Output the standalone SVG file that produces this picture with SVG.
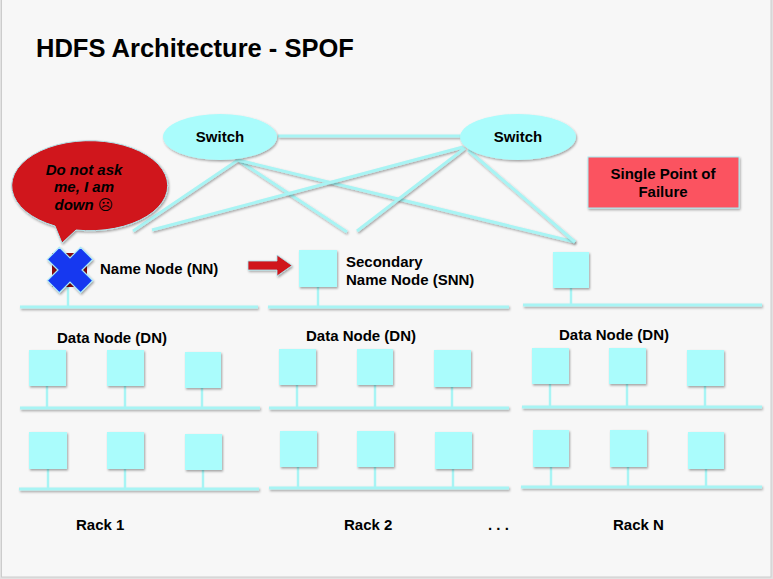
<svg xmlns="http://www.w3.org/2000/svg" width="773" height="579" viewBox="0 0 773 579">
<defs>
<filter id="sh" filterUnits="userSpaceOnUse" x="0" y="0" width="773" height="579">
<feDropShadow dx="1" dy="1.5" stdDeviation="0.8" flood-color="#000" flood-opacity="0.35"/>
</filter>
<style>
text{font-family:"Liberation Sans",Arial,sans-serif;font-weight:bold;fill:#000}
.t15{font-size:15px}
.mid{text-anchor:middle}
.node{fill:#aafcfc;filter:url(#sh)}
.ln{stroke:#a8f4f4;stroke-width:3;fill:none;filter:url(#sh)}
.stem{stroke:#a8f4f4;stroke-width:2.5;fill:none}
.sw{fill:#aafcfc;filter:url(#sh)}
</style>
</defs>
<rect x="0" y="0" width="773" height="579" fill="#e2e2e2"/>
<rect x="1.5" y="-2" width="769.5" height="579" fill="#f7f7f7" stroke="#cccccc" stroke-width="1"/>

<text x="36" y="57" style="font-size:25.5px">HDFS Architecture - SPOF</text>

<g id="connectors">
<line class="ln" x1="278" y1="136" x2="460" y2="136"/>
<line class="ln" x1="238" y1="160" x2="133" y2="231"/>
<line class="ln" x1="238" y1="160" x2="347" y2="232"/>
<line class="ln" x1="238" y1="160" x2="575" y2="242"/>
<line class="ln" x1="463" y1="147" x2="152" y2="230"/>
<line class="ln" x1="465" y1="148" x2="357" y2="231"/>
<line class="ln" x1="468" y1="150" x2="575" y2="242"/>
<g id="arrow">
<polygon points="248,261 277,261 277,255 292,265.5 277,276 277,270 248,270" fill="#d0121b" stroke="#a8e8f0" stroke-width="0.8" filter="url(#sh)"/>
</g>
</g>

<g id="switch-left">
<ellipse class="sw" cx="220" cy="137" rx="57" ry="23"/>
<text class="t15 mid" x="220" y="142">Switch</text>
</g>
<g id="switch-right">
<ellipse class="sw" cx="518" cy="137" rx="58" ry="23"/>
<text class="t15 mid" x="518" y="142">Switch</text>
</g>

<g id="bubble">
<path d="M 55 226 A 78 45 0 1 1 76 230 L 62 243 Z" fill="#d0121b" stroke="#b0e4ea" stroke-width="1" filter="url(#sh)"/>
<text class="t15 mid" x="84" y="175" font-style="italic">Do not ask</text>
<text class="t15 mid" x="84" y="192" font-style="italic">me, I am</text>
<text class="t15 mid" x="84" y="210" font-style="italic">down <tspan font-family="'DejaVu Sans',sans-serif" font-style="normal">☹</tspan></text>
</g>

<g id="spof">
<rect x="588" y="157" width="151" height="51" fill="#fb5360" stroke="#a8ecf0" stroke-width="1" filter="url(#sh)"/>
<text class="t15 mid" x="663" y="179">Single Point of</text>
<text class="t15 mid" x="663" y="197">Failure</text>
</g>

<g id="name-node">
<line class="ln" x1="20" y1="307" x2="258" y2="307"/>
<line class="stem" x1="68" y1="287" x2="68" y2="307"/>
<rect x="52" y="253" width="35" height="34" fill="#8b0a10"/>
<g filter="url(#sh)">
<polygon transform="translate(70,270) rotate(45)" points="-8.5,-23.5 8.5,-23.5 8.5,-8.5 23.5,-8.5 23.5,8.5 8.5,8.5 8.5,23.5 -8.5,23.5 -8.5,8.5 -23.5,8.5 -23.5,-8.5 -8.5,-8.5" fill="#1238f0" stroke="#a8e8f8" stroke-width="1.2"/>
</g>
<text class="t15" x="100" y="274">Name Node (NN)</text>
</g>

<g id="secondary-name-node">
<line class="ln" x1="268" y1="307" x2="509" y2="307"/>
<line class="stem" x1="318" y1="287" x2="318" y2="307"/>
<rect class="node" x="299" y="250" width="38" height="37"/>
<text class="t15" x="346" y="267">Secondary</text>
<text class="t15" x="346" y="285">Name Node (SNN)</text>
</g>

<g id="rack-n-node">
<line class="ln" x1="523" y1="305" x2="762" y2="305"/>
<line class="stem" x1="571" y1="288" x2="571" y2="305"/>
<rect class="node" x="553" y="252" width="36" height="36"/>
</g>

<g id="rack1">
<text class="t15" x="57" y="343">Data Node (DN)</text>
<line class="ln" x1="20" y1="408" x2="260" y2="408"/>
<line class="stem" x1="47" y1="386" x2="47" y2="408"/>
<line class="stem" x1="125" y1="386" x2="125" y2="408"/>
<line class="stem" x1="202" y1="388" x2="202" y2="408"/>
<rect class="node" x="29" y="350" width="37" height="36"/>
<rect class="node" x="107" y="350" width="37" height="36"/>
<rect class="node" x="185" y="352" width="36" height="36"/>
<line class="ln" x1="19" y1="489" x2="259" y2="489"/>
<line class="stem" x1="48" y1="469" x2="48" y2="489"/>
<line class="stem" x1="125" y1="469" x2="125" y2="489"/>
<line class="stem" x1="203" y1="470" x2="203" y2="489"/>
<rect class="node" x="29" y="432" width="38" height="37"/>
<rect class="node" x="107" y="432" width="37" height="37"/>
<rect class="node" x="185" y="434" width="37" height="36"/>
<text class="t15" x="76" y="530">Rack 1</text>
</g>

<g id="rack2">
<text class="t15" x="306" y="341">Data Node (DN)</text>
<line class="ln" x1="269" y1="408" x2="509" y2="408"/>
<line class="stem" x1="297" y1="385" x2="297" y2="408"/>
<line class="stem" x1="375" y1="385" x2="375" y2="408"/>
<line class="stem" x1="452" y1="387" x2="452" y2="408"/>
<rect class="node" x="279" y="349" width="37" height="36"/>
<rect class="node" x="357" y="349" width="36" height="36"/>
<rect class="node" x="434" y="350" width="37" height="37"/>
<line class="ln" x1="269" y1="488" x2="509" y2="488"/>
<line class="stem" x1="298" y1="467" x2="298" y2="488"/>
<line class="stem" x1="375" y1="467" x2="375" y2="488"/>
<line class="stem" x1="453" y1="469" x2="453" y2="488"/>
<rect class="node" x="280" y="431" width="37" height="36"/>
<rect class="node" x="357" y="431" width="37" height="36"/>
<rect class="node" x="435" y="432" width="37" height="37"/>
<text class="t15" x="344" y="530">Rack 2</text>
</g>

<text class="t15" x="488" y="530">. . .</text>

<g id="rackN">
<text class="t15" x="559" y="340">Data Node (DN)</text>
<line class="ln" x1="522" y1="407" x2="762" y2="407"/>
<line class="stem" x1="550" y1="384" x2="550" y2="407"/>
<line class="stem" x1="627" y1="384" x2="627" y2="407"/>
<line class="stem" x1="705" y1="386" x2="705" y2="407"/>
<rect class="node" x="532" y="348" width="37" height="36"/>
<rect class="node" x="609" y="348" width="37" height="36"/>
<rect class="node" x="687" y="350" width="37" height="36"/>
<line class="ln" x1="521" y1="487" x2="762" y2="487"/>
<line class="stem" x1="551" y1="467" x2="551" y2="487"/>
<line class="stem" x1="628" y1="467" x2="628" y2="487"/>
<line class="stem" x1="706" y1="469" x2="706" y2="487"/>
<rect class="node" x="533" y="430" width="36" height="37"/>
<rect class="node" x="610" y="430" width="37" height="37"/>
<rect class="node" x="688" y="432" width="36" height="37"/>
<text class="t15" x="613" y="530">Rack N</text>
</g>
</svg>
